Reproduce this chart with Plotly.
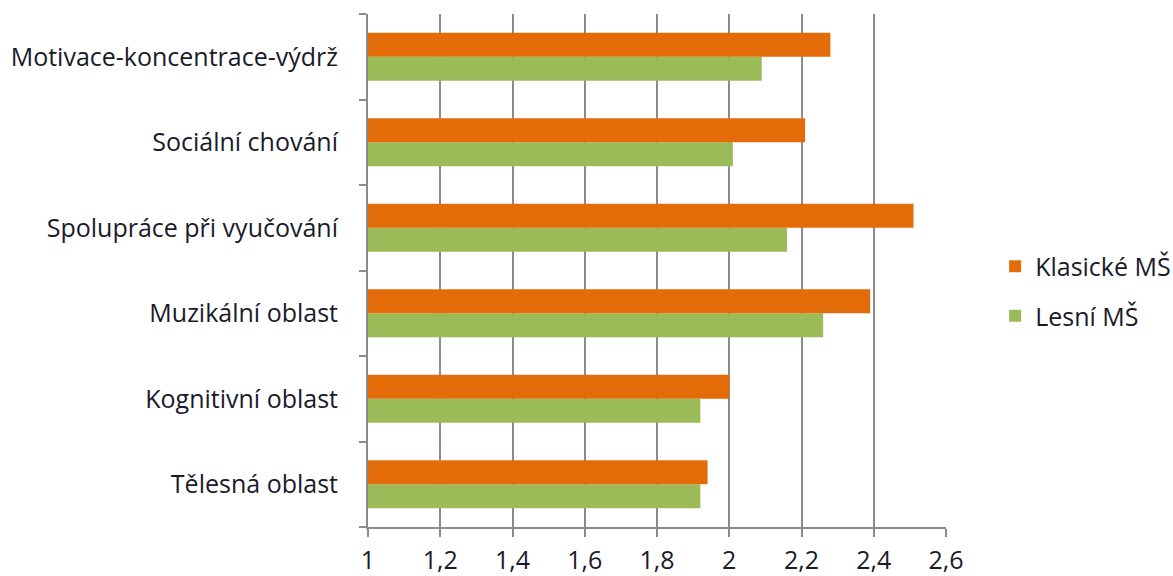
import plotly.graph_objects as go

categories = ["Tělesná oblast", "Kognitivní oblast", "Muzikální oblast",
              "Spolupráce při vyučování", "Sociální chování", "Motivace-koncentrace-výdrž"]
klasicke = [1.94, 2.00, 2.39, 2.51, 2.21, 2.28]
lesni = [1.92, 1.92, 2.26, 2.16, 2.01, 2.09]
x_ticks = [1, 1.2, 1.4, 1.6, 1.8, 2, 2.2, 2.4, 2.6]

fig = go.Figure()
fig.add_trace(go.Bar(y=categories, x=lesni, orientation="h", name="Lesní MŠ",
                     marker=dict(color="#9BBB59", line=dict(width=0)),
                     legendgroup="b", legendrank=2))
fig.add_trace(go.Bar(y=categories, x=klasicke, orientation="h", name="Klasické MŠ",
                     marker=dict(color="#E36C09", line=dict(width=0)),
                     legendgroup="a", legendrank=1))

fig.update_layout(
    width=1173, height=576,
    margin=dict(l=368, r=227, t=14, b=49, autoexpand=False),
    paper_bgcolor="white", plot_bgcolor="white",
    barmode="group", bargap=0.44, bargroupgap=0,
    separators=", ",
    font=dict(family="'Open Sans', sans-serif", size=25, color="#1a1a2a"),
    legend=dict(x=1.085, y=0.46, xanchor="left", yanchor="middle",
                traceorder="grouped", tracegroupgap=14,
                font=dict(size=25)),
    xaxis=dict(range=[1, 2.6], tickvals=x_ticks, showgrid=True, gridcolor="#8c8c8c",
               gridwidth=2, showline=True, linecolor="#8c8c8c", linewidth=2,
               ticks="outside", ticklen=8, tickwidth=2, tickcolor="#8c8c8c",
               ticklabelstandoff=2, automargin=False, zeroline=False, fixedrange=True),
    yaxis=dict(categoryorder="array", categoryarray=categories,
               showgrid=False, showline=True, linecolor="#8c8c8c", linewidth=2,
               ticks="outside", ticklen=7, tickwidth=2, tickcolor="#8c8c8c",
               tickson="boundaries", ticklabelstandoff=23, automargin=False,
               fixedrange=True),
)

fig.write_html("out.html")
